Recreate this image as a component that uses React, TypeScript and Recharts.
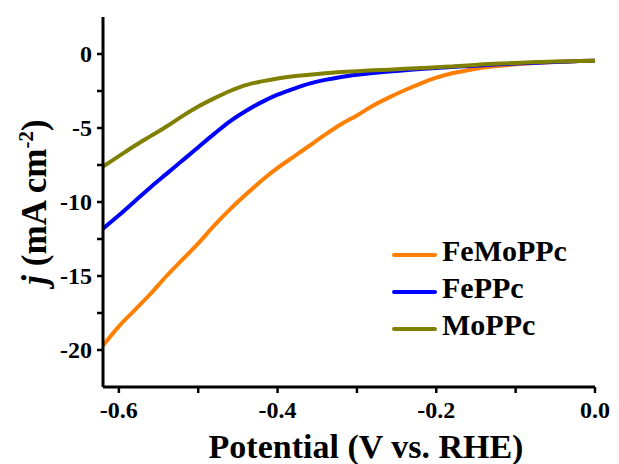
import { LineChart, Line, XAxis, YAxis, Legend, Label } from 'recharts';

// Potential (V vs. RHE) sample points
const potentials = [
  -0.62, -0.6, -0.58, -0.56, -0.54, -0.52, -0.5, -0.48, -0.46, -0.44, -0.42, -0.4,
  -0.38, -0.36, -0.34, -0.32, -0.3, -0.28, -0.26, -0.24, -0.22, -0.2, -0.18, -0.16,
  -0.14, -0.12, -0.1, -0.08, -0.06, -0.04, -0.02, 0,
];

const feMoPPc = [
  -19.7, -18.4, -17.3, -16.2, -15.0, -13.9, -12.8, -11.6, -10.5, -9.5, -8.55, -7.7,
  -6.95, -6.2, -5.45, -4.75, -4.15, -3.5, -2.95, -2.45, -2.0, -1.6, -1.3, -1.1,
  -0.92, -0.8, -0.7, -0.62, -0.56, -0.52, -0.48, -0.45,
];

const fePPc = [
  -11.8, -10.9, -9.95, -9.0, -8.1, -7.2, -6.3, -5.4, -4.55, -3.85, -3.25, -2.75,
  -2.35, -2.0, -1.75, -1.55, -1.4, -1.28, -1.18, -1.1, -1.02, -0.95, -0.88, -0.82,
  -0.76, -0.7, -0.65, -0.6, -0.56, -0.52, -0.48, -0.45,
];

const moPPc = [
  -7.6, -6.9, -6.2, -5.55, -4.9, -4.2, -3.55, -3.0, -2.5, -2.1, -1.85, -1.65,
  -1.5, -1.4, -1.3, -1.22, -1.16, -1.1, -1.06, -1.0, -0.95, -0.9, -0.84, -0.78,
  -0.7, -0.65, -0.6, -0.56, -0.53, -0.5, -0.47, -0.45,
];

const xTicks = [-0.6, -0.5, -0.4, -0.3, -0.2, -0.1, 0];
const xLabels = ['-0.6', '-0.4', '-0.2', '0.0'];
const yTicks = [-20, -17.5, -15, -12.5, -10, -7.5, -5, -2.5, 0];
const yLabels = ['-20', '-15', '-10', '-5', '0'];

const series = [
  { name: 'FeMoPPc', values: feMoPPc, color: '#ff7f00' },
  { name: 'FePPc', values: fePPc, color: '#0000ff' },
  { name: 'MoPPc', values: moPPc, color: '#808000' },
];

const FONT = "'Liberation Serif', Tinos, 'Times New Roman', Times, serif";

// x tick labels, only on the major ticks
const XTick = ({ x, y, payload }: any) => {
  const s = payload.value === 0 ? '0.0' : payload.value.toFixed(1);
  if (!xLabels.includes(s)) return null;
  return (
    <text x={x} y={y + 21} textAnchor="middle" fill="#000" fontFamily={FONT}
      fontWeight={700} fontSize={24}>
      {s}
    </text>
  );
};

const YTick = ({ x, y, payload }: any) => {
  const s = String(payload.value);
  if (!yLabels.includes(s)) return null;
  return (
    <text x={x} y={y + 8} textAnchor="end" fill="#000" fontFamily={FONT}
      fontWeight={700} fontSize={24}>
      {s}
    </text>
  );
};

const LegendBox = () => (
  <div style={{ fontFamily: FONT, fontWeight: 700, fontSize: 30, lineHeight: '37px' }}>
    {series.map(s => (
      <div key={s.name} style={{ display: 'flex', alignItems: 'center' }}>
        <span style={{ display: 'inline-block', width: 45, height: 4, borderRadius: 2, background: s.color, marginRight: 5, position: 'relative', top: 4 }} />
        <span>{s.name}</span>
      </div>
    ))}
  </div>
);

export default function App() {
  return (
    <div style={{ position: 'absolute', left: 0, top: 0, background: '#fff', fontFamily: FONT }}>
      <LineChart width={619} height={464} margin={{ top: 17, right: 24, left: 0, bottom: 0 }}>
        <XAxis
          xAxisId="b"
          type="number"
          dataKey="x"
          domain={[-0.62, 0]}
          ticks={xTicks}
          allowDataOverflow
          height={77}
          tickSize={6}
          tickMargin={4}
          axisLine={{ stroke: '#000', strokeWidth: 3 }}
          tickLine={{ stroke: '#000', strokeWidth: 2.5 }}
          tick={<XTick />}
        >
          <Label
            content={({ viewBox }: any) => (
              <text
                x={366}
                y={viewBox.y + 71}
                textAnchor="middle"
                fontFamily={FONT}
                fontWeight={700}
                fontSize={34}
                fill="#000"
              >
                Potential (V vs. RHE)
              </text>
            )}
          />
        </XAxis>
        <XAxis
          xAxisId="t"
          orientation="top"
          type="number"
          dataKey="x"
          domain={[-0.62, 0]}
          height={0}
          tick={false}
          tickLine={false}
          axisLine={{ stroke: '#000', strokeWidth: 3 }}
        />
        <YAxis
          yAxisId="l"
          type="number"
          domain={[-22.5, 2.5]}
          ticks={yTicks}
          allowDataOverflow
          width={103}
          tickSize={6}
          tickMargin={5}
          axisLine={{ stroke: '#000', strokeWidth: 3 }}
          tickLine={{ stroke: '#000', strokeWidth: 2.5 }}
          tick={<YTick />}
        >
          <Label
            content={() => {
              const cx = 46;
              const cy = 202;
              return (
                <text
                  x={cx}
                  y={cy}
                  textAnchor="middle"
                  transform={`rotate(-90 ${cx} ${cy})`}
                  fontFamily={FONT}
                  fontWeight={700}
                  fontSize={35}
                  fill="#000"
                >
                  <tspan fontStyle="italic">j</tspan>
                  <tspan> (mA cm</tspan>
                  <tspan dy={-13} fontSize={21}>-2</tspan>
                  <tspan dy={13}>)</tspan>
                </text>
              );
            }}
          />
        </YAxis>
        <YAxis
          yAxisId="r"
          orientation="right"
          type="number"
          domain={[-22.5, 2.5]}
          width={0}
          tick={false}
          tickLine={false}
          axisLine={{ stroke: '#000', strokeWidth: 3 }}
        />
        {series.map(s => (
          <Line
            key={s.name}
            xAxisId="b"
            yAxisId="l"
            name={s.name}
            data={potentials.map((x, i) => ({ x, y: s.values[i] }))}
            dataKey="y"
            type="monotone"
            stroke={s.color}
            strokeWidth={4}
            dot={false}
            isAnimationActive={false}
          />
        ))}
        <Legend
          layout="vertical"
          align="center"
          verticalAlign="middle"
          content={() => <LegendBox />}
          wrapperStyle={{ position: 'absolute', left: 392, top: 232, width: 'auto' }}
        />
      </LineChart>
    </div>
  );
}
